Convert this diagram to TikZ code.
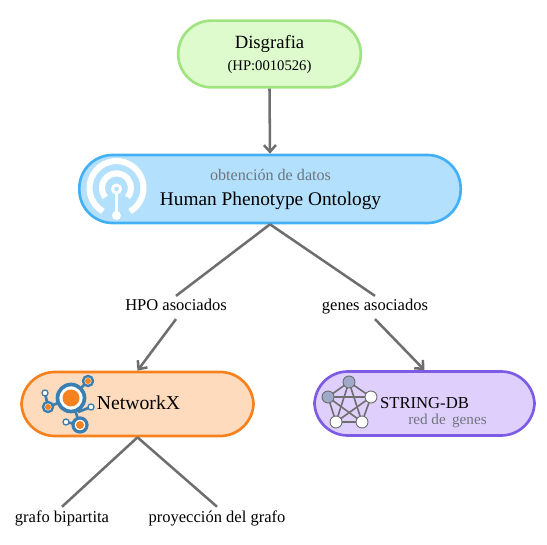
\documentclass[tikz,border=0pt]{standalone}
\usepackage{fontspec}
\setmainfont{Liberation Serif}
\usetikzlibrary{arrows.meta, positioning, calc}

\definecolor{linkgray}{HTML}{6E6E6E}
\definecolor{notegray}{HTML}{70757D}
\definecolor{nxblue}{HTML}{3B7FB0}
\definecolor{nxorange}{HTML}{F5811F}
\definecolor{netnode}{HTML}{9FA9C8}
\definecolor{hpofill}{HTML}{B3E0FD}

\begin{document}
\begin{tikzpicture}[
    x=0.75pt, y=-0.75pt,
    pill/.style={rectangle, rounded corners=25pt, draw, line width=2pt, minimum height=50pt, align=center},
    link/.style={draw=linkgray, line width=1.9pt},
    arrow/.style={link, -{Straight Barb[length=5pt, width=9pt]}},
    tag/.style={inner sep=1.5pt, text height=9.5pt, text depth=4.5pt, font=\fontsize{12.4}{14}\selectfont},
    leaf/.style={tag, text height=10.5pt}
]
\useasboundingbox (0,0) rectangle (547,545);

% Main blocks
\node[pill, draw={rgb,255:red,160;green,228;blue,130}, fill={rgb,255:red,222;green,251;blue,205}, minimum width=137pt] (disgrafia) at (269.5,54) {};
\node[pill, draw={rgb,255:red,67;green,176;blue,245}, fill=hpofill, minimum width=286pt, minimum height=51pt] (hpo) at (270,189) {};
\node[pill, draw=nxorange, fill={rgb,255:red,254;green,219;blue,188}, minimum width=174pt, minimum height=48pt] (nx) at (137.5,404) {};
\node[pill, draw={rgb,255:red,124;green,92;blue,228}, fill={rgb,255:red,223;green,207;blue,253}, minimum width=165pt, minimum height=48pt] (string) at (424.5,403.5) {};

% Texts
\node[font=\fontsize{14}{16}\selectfont] (disgrafiatxt) at (269.5,43.5) {Disgrafia};
\node[font=\fontsize{11}{13}\selectfont] (hpid) at (269.5,67) {(HP:0010526)};
\node[font=\fontsize{12.1}{14}\selectfont, text=notegray] (obtencion) at (270.5,175) {obtención de datos};
\node[font=\fontsize{14.5}{17}\selectfont] (hpotxt) at (270.5,201) {Human Phenotype Ontology};
\node[font=\fontsize{14.8}{17}\selectfont] (nxtxt) at (138.5,403) {NetworkX};
\node[font=\fontsize{12.5}{15}\selectfont] (stringtxt) at (424.5,403) {STRING-DB};
\node[font=\fontsize{11.4}{13}\selectfont, text=notegray] (redgenes) at (447.5,420.5) {red de\, genes};

% Edge labels and leaves
\node[tag] (hpoasoc) at (176,307.5) {HPO asociados};
\node[tag] (genesasoc) at (375,307.5) {genes asociados};
\node[leaf] (bipartita) at (62,519) {grafo bipartita};
\node[leaf] (proyeccion) at (217,519) {proyección del grafo};

% Arrows
\draw[arrow] (disgrafia.south) -- (hpo.north);
\draw[link] (hpo.south) -- (hpoasoc.north);
\draw[arrow] (hpoasoc.south) -- (nx.north);
\draw[link] (hpo.south) -- (genesasoc.north);
\draw[arrow] (genesasoc.south) -- (string.north);
\draw[link] (nx.south) -- (bipartita.north);
\draw[link] (nx.south) -- (proyeccion.north);

% Signal icon
\begin{scope}[white, line width=4.6pt]
\draw (103,211.4) arc (120:420:27);
\draw (105.4,197.3) arc (140:400:14.5);
\draw[line width=2pt] (116.5,189) -- (116.5,215);
\fill (116.5,215.5) circle (4.5);
\draw[line width=2.2pt, fill=hpofill] (116.5,189) circle (4);
\end{scope}

% NetworkX icon
\begin{scope}[nxblue]
\draw[line width=2pt] (71,398) -- (88,381) (71,398) -- (48,407) -- (45,393) (71,398) -- (80,425) -- (66,422) (78,412) -- (91,407);
\draw[line width=2.8pt, fill=white] (71,398) circle (13.5);
\fill[nxorange] (71,398) circle (8.5);
\draw[line width=1.8pt, fill=white] (88,381) circle (5);
\fill[nxorange] (88,381) circle (3);
\draw[line width=1.8pt, fill=white] (48,407) circle (5);
\fill[nxorange] (48,407) circle (3);
\draw[line width=2.4pt, fill=white] (80,425) circle (7);
\fill[nxorange] (80,425) circle (4);
\draw[line width=1pt, fill=white] (45,393) circle (3);
\draw[line width=1pt, fill=white] (91,407) circle (3);
\draw[line width=1pt, fill=white] (66,422) circle (3);
\end{scope}

% Gene network icon
\coordinate (ga) at (349,382);
\coordinate (gb) at (328,397);
\coordinate (gc) at (371,397);
\coordinate (gd) at (336,422);
\coordinate (ge) at (362,422);
\foreach \src/\dst in {a/b, a/c, a/d, a/e, b/c, b/d, b/e, c/d, c/e, d/e}
  \draw[linkgray, line width=1.2pt] (g\src) -- (g\dst);
\foreach \gene/\shade in {a/netnode, b/netnode, c/white, d/white, e/white}
  \draw[linkgray, line width=0.7pt, fill=\shade] (g\gene) circle (6);

\end{tikzpicture}
\end{document}
